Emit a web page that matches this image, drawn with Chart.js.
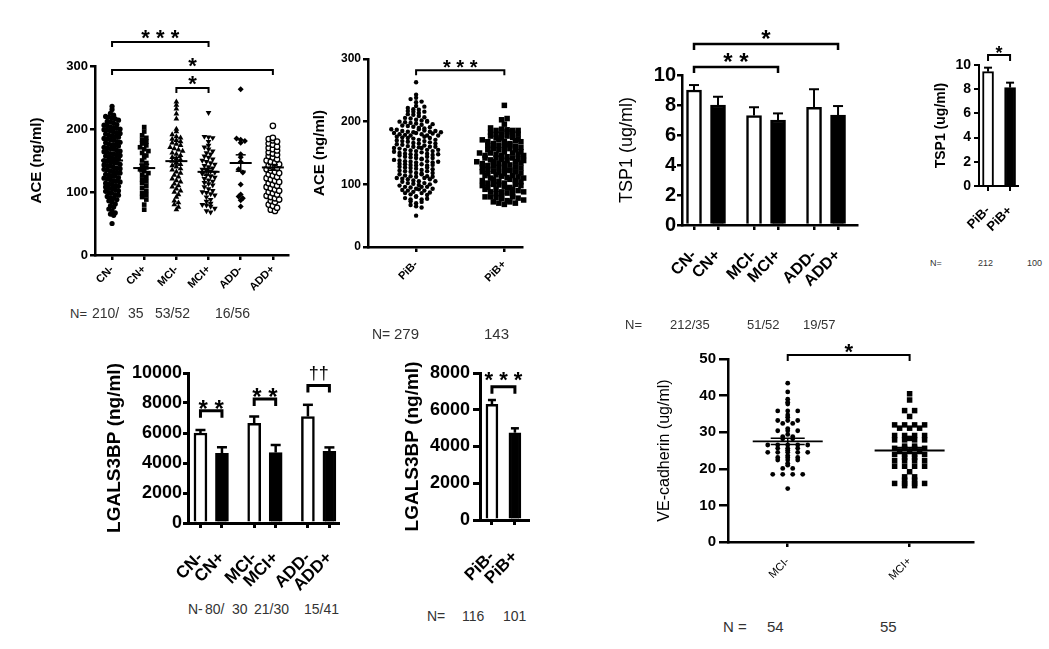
<!DOCTYPE html>
<html>
<head>
<meta charset="utf-8">
<script src="https://cdn.jsdelivr.net/npm/chart.js@4.4.1/dist/chart.umd.min.js"></script>
<style>
html, body { margin: 0; padding: 0; background: #fff; }
body { width: 1049px; height: 649px; position: relative; overflow: hidden; font-family: 'Liberation Sans', Arial, sans-serif; }
canvas { position: absolute; }
.n { position: absolute; color: #333; white-space: pre; line-height: 1; }
</style>
</head>
<body>
<canvas id="c1" width="300" height="280" style="left:0;top:20px"></canvas>
<canvas id="c2" width="230" height="250" style="left:300px;top:40px"></canvas>
<canvas id="c3" width="262" height="280" style="left:600px;top:20px"></canvas>
<canvas id="c4" width="105" height="205" style="left:920px;top:40px"></canvas>
<canvas id="c5" width="270" height="250" style="left:80px;top:345px"></canvas>
<canvas id="c6" width="155" height="250" style="left:380px;top:345px"></canvas>
<canvas id="c7" width="355" height="255" style="left:630px;top:335px"></canvas>

<!-- group sizes under each panel -->
<div class="n" style="left:70px;top:307px;font-size:13px">N=</div>
<div class="n" style="left:92px;top:306px;font-size:14px">210/</div>
<div class="n" style="left:128px;top:306px;font-size:14px">35</div>
<div class="n" style="left:155px;top:306px;font-size:14px">53/52</div>
<div class="n" style="left:215px;top:306px;font-size:14px">16/56</div>

<div class="n" style="left:372px;top:327px;font-size:14px">N=</div>
<div class="n" style="left:394px;top:326px;font-size:15px">279</div>
<div class="n" style="left:484px;top:326px;font-size:15px">143</div>

<div class="n" style="left:625px;top:318px;font-size:13px">N=</div>
<div class="n" style="left:670px;top:318px;font-size:13px">212/35</div>
<div class="n" style="left:747px;top:318px;font-size:13px">51/52</div>
<div class="n" style="left:803px;top:318px;font-size:13px">19/57</div>

<div class="n" style="left:930px;top:259px;font-size:9px">N=</div>
<div class="n" style="left:978px;top:259px;font-size:9px">212</div>
<div class="n" style="left:1027px;top:259px;font-size:9px">100</div>

<div class="n" style="left:188px;top:602px;font-size:14px">N-</div>
<div class="n" style="left:205px;top:602px;font-size:14px">80/</div>
<div class="n" style="left:232px;top:602px;font-size:14px">30</div>
<div class="n" style="left:254px;top:602px;font-size:14px">21/30</div>
<div class="n" style="left:304px;top:602px;font-size:14px">15/41</div>

<div class="n" style="left:427px;top:609px;font-size:14px">N=</div>
<div class="n" style="left:462px;top:609px;font-size:14px">116</div>
<div class="n" style="left:503px;top:609px;font-size:14px">101</div>

<div class="n" style="left:723px;top:619px;font-size:15px">N =</div>
<div class="n" style="left:767px;top:619px;font-size:15px">54</div>
<div class="n" style="left:880px;top:619px;font-size:15px">55</div>

<script>
// ---- data ----
const aceGroups = ['CN-', 'CN+', 'MCI-', 'MCI+', 'ADD-', 'ADD+'];
const aceTicks = [0, 100, 200, 300];
const aceCnNeg = [
  236, 231, 225, 222, 220, 219, 217, 216, 214, 212, 211, 209, 207, 206, 205, 203,
  202, 201, 200, 199, 198, 197, 195, 194, 193, 192, 190, 189, 188, 187, 185, 184,
  183, 182, 180, 179, 178, 176, 175, 174, 173, 171, 170, 169, 168, 166, 165, 164,
  163, 161, 160, 159, 158, 157, 155, 154, 153, 152, 150, 149, 148, 147, 146, 144,
  143, 142, 141, 139, 138, 137, 136, 135, 133, 132, 131, 130, 128, 127, 126, 125,
  123, 122, 121, 120, 118, 117, 116, 114, 113, 112, 110, 109, 108, 106, 105, 104,
  102, 101, 99, 98, 96, 95, 93, 91, 90, 88, 86, 84, 81, 78, 76, 73, 70, 67, 65, 63, 50
];
const aceCnPos = [203, 196, 190, 186, 183, 180, 177, 174, 171, 168, 165, 162, 158, 155, 150, 146, 142, 139,
  136, 133, 130, 127, 124, 120, 117, 114, 110, 106, 102, 98, 95, 92, 88, 80, 72];
const aceMciNeg = [243, 238, 232, 224, 216, 200, 196, 191, 188, 186, 184, 182, 180, 178, 176, 174, 171, 169,
  167, 165, 162, 160, 158, 155, 153, 151, 149, 147, 144, 142, 140, 137, 135, 132, 130, 127, 124, 121,
  118, 116, 113, 110, 108, 105, 102, 100, 96, 92, 86, 83, 80, 76, 72];
const aceMciPos = [226, 188, 187, 186, 180, 174, 171, 168, 165, 162, 160, 157, 155, 152, 150, 148, 146, 144,
  142, 140, 138, 136, 134, 133, 131, 129, 127, 125, 123, 121, 119, 117, 115, 113, 111, 108, 105, 102,
  100, 99, 97, 95, 92, 88, 85, 82, 80, 79, 77, 74, 70, 68];
const aceAddNeg = [263, 185, 183, 181, 178, 160, 155, 148, 136, 131, 112, 96, 93, 90, 87, 77];
const aceAddPos = [205, 186, 184, 182, 180, 177, 175, 172, 170, 168, 166, 163, 161, 159, 157, 155, 152, 150,
  148, 146, 144, 142, 140, 138, 136, 134, 132, 130, 128, 126, 124, 122, 120, 118, 116, 114, 112, 110,
  108, 106, 104, 102, 100, 98, 96, 94, 92, 90, 88, 86, 84, 80, 78, 75, 72, 70];
const aceMeans = [150, 138, 149, 132, 146, 139];
const aceSem = [2.5, 6, 6, 5.5, 13, 4.5];

const pibGroups = ['PiB-', 'PiB+'];

const tsp1Groups = ['CN-', 'CN+', 'MCI-', 'MCI+', 'ADD-', 'ADD+'];
const tsp1Ticks = [0, 2, 4, 6, 8, 10];
const tsp1Means = [9.0, 8.0, 7.3, 7.0, 7.85, 7.33];
const tsp1Sem = [0.33, 0.55, 0.55, 0.44, 1.2, 0.6];
const tsp1PibMeans = [9.45, 8.13];
const tsp1PibSem = [0.33, 0.41];

const lgalsTicks = [0, 2000, 4000, 6000, 8000, 10000];
const lgalsPibTicks = [0, 2000, 4000, 6000, 8000];
const lgalsMeans = [6000, 4650, 6650, 4700, 7100, 4780];
const lgalsSem = [200, 400, 450, 500, 780, 260];
const lgalsPibMeans = [6300, 4750];
const lgalsPibSem = [230, 240];

const veGroups = ['MCI-', 'MCI+'];
const veTicks = [0, 10, 20, 30, 40, 50];
const veMciNeg = [43.4, 41.0, 39.0, 38.2, 37.7, 35.8, 35.8, 35.8, 34.7, 34.1, 33.2, 33.2, 33.2, 32.4, 32.4,
  31.0, 30.4, 30.4, 30.4, 29.4, 28.8, 28.8, 28.2, 28.2, 26.5, 26.5, 26.5, 26.5, 26.5, 25.6, 25.6, 25.6,
  25.1, 24.5, 24.5, 24.5, 24.5, 24.5, 23.6, 23.1, 23.1, 23.1, 22.4, 22.4, 22.4, 21.5, 21.0, 20.1, 20.1,
  18.5, 18.5, 18.5, 18.5, 14.6];
const veMciPos = [40.5, 38.8, 35.9, 35.9, 34.3, 32.0, 32.0, 32.0, 32.0, 31.1, 31.1, 31.1, 29.1, 29.1, 29.1,
  29.1, 28.3, 27.9, 27.9, 27.9, 27.9, 26.2, 26.2, 25.6, 25.6, 25.6, 25.6, 24.9, 24.9, 24.9, 23.9, 23.9,
  23.9, 23.9, 23.1, 23.1, 22.2, 22.2, 22.2, 22.2, 20.7, 20.7, 20.7, 20.7, 19.2, 17.8, 17.8, 16.9, 16.9,
  16.0, 16.0, 16.0, 16.0, 15.4, 15.4];
const veMeans = [27.5, 25.0];
const veSem = [0.85, 0.8];

// ---- layout helpers ----
const FONT = "'Liberation Sans', Arial, sans-serif";
Chart.defaults.font.family = FONT;
Chart.defaults.color = '#000';

const barSlots = [0, 1, 2.5, 3.5, 5, 6];
const barFill = ['#fff', '#000', '#fff', '#000', '#fff', '#000'];

// GraphPad-like column scatter: values in the same y band are spread sideways
function swarm(values, center, bin, step) {
  const rows = {};
  values.forEach(v => {
    const k = Math.round(v / bin);
    (rows[k] = rows[k] || []).push(v);
  });
  const pts = [];
  Object.values(rows).forEach(row => {
    row.forEach((v, i) => pts.push({ x: center + (i - (row.length - 1) / 2) * step, y: v }));
  });
  return pts;
}

function seg(ctx, x1, y1, x2, y2) {
  ctx.beginPath(); ctx.moveTo(x1, y1); ctx.lineTo(x2, y2); ctx.stroke();
}

function marks(cfg) {
  return {
    id: 'marks',
    afterDatasetsDraw(chart) {
      const { ctx, scales: { x, y } } = chart;
      ctx.save();
      ctx.strokeStyle = '#000';
      ctx.fillStyle = '#000';
      (cfg.means || []).forEach(m => {
        const cx = x.getPixelForValue(m.x);
        const my = y.getPixelForValue(m.mean);
        const t = y.getPixelForValue(m.mean + m.sem), b = y.getPixelForValue(m.mean - m.sem);
        ctx.lineWidth = cfg.meanWidth;
        seg(ctx, cx - cfg.meanHalf, my, cx + cfg.meanHalf, my);
        ctx.lineWidth = cfg.semWidth;
        seg(ctx, cx, t, cx, b);
        seg(ctx, cx - cfg.semHalf, t, cx + cfg.semHalf, t);
        seg(ctx, cx - cfg.semHalf, b, cx + cfg.semHalf, b);
      });
      (cfg.errors || []).forEach(e => {
        const cx = x.getPixelForValue(e.x);
        const t = y.getPixelForValue(e.mean + e.sem), b = y.getPixelForValue(e.mean);
        ctx.lineWidth = cfg.errWidth;
        seg(ctx, cx, b, cx, t);
        seg(ctx, cx - cfg.capHalf, t, cx + cfg.capHalf, t);
      });
      (cfg.brackets || []).forEach(br => {
        const xa = x.getPixelForValue(br.a), xb = x.getPixelForValue(br.b);
        const yy = y.getPixelForValue(br.y);
        ctx.lineWidth = cfg.bracketWidth;
        ctx.beginPath();
        ctx.moveTo(xa, yy + cfg.drop); ctx.lineTo(xa, yy); ctx.lineTo(xb, yy); ctx.lineTo(xb, yy + cfg.drop);
        ctx.stroke();
        ctx.font = br.font || cfg.starFont;
        ctx.textAlign = 'center';
        ctx.textBaseline = 'alphabetic';
        ctx.fillText(br.text, (xa + xb) / 2, yy + (br.dy !== undefined ? br.dy : cfg.starDy));
      });
      ctx.restore();
    }
  };
}

function axisY(o) {
  return {
    type: 'linear', min: o.ticks[0], max: o.ticks[o.ticks.length - 1],
    afterBuildTicks: s => { s.ticks = o.ticks.map(v => ({ value: v })); },
    ticks: { color: '#000', font: o.tickFont, padding: o.tickPad, callback: v => String(v) },
    grid: { drawOnChartArea: false, color: '#000', lineWidth: o.lw, tickLength: o.tickLen || 5 },
    border: { color: '#000', width: o.lw },
    title: { display: true, text: o.title, color: '#000', font: o.titleFont, padding: { top: o.titlePad, bottom: 0 } },
    afterFit: s => { s.width = o.width; }
  };
}

function axisX(o) {
  return {
    type: 'linear', min: o.min, max: o.max, offset: false,
    afterBuildTicks: s => { s.ticks = o.slots.map(v => ({ value: v })); },
    ticks: { autoSkip: false, minRotation: 45, maxRotation: 45, color: '#000', font: o.font, padding: o.pad,
      callback: (v, i) => o.labels[i] },
    grid: { drawOnChartArea: false, color: '#000', lineWidth: o.lw, tickLength: 5, offset: false },
    border: { color: '#000', width: o.lw },
    // keep the plot box fixed: rotated labels must not push the axis ends inward
    afterFit: s => { s.height = o.height; s.paddingLeft = 0; s.paddingRight = 0; }
  };
}

function baseOptions(pad, scales) {
  return {
    responsive: false, animation: false, events: [],
    layout: { padding: { top: pad.top, right: pad.right, left: 0, bottom: 0 } },
    plugins: { legend: { display: false }, tooltip: { enabled: false } },
    scales
  };
}

function dots(points, style) {
  return Object.assign({ data: points, pointBackgroundColor: '#000', pointBorderColor: '#000',
    pointBorderWidth: 0, pointRadius: 2.6, pointStyle: 'circle', clip: false }, style);
}

// ---- panel 1: ACE by group ----
new Chart(document.getElementById('c1'), {
  type: 'scatter',
  data: {
    datasets: [
      dots(swarm(aceCnNeg, 0, 7, 0.1), {}),
      dots(swarm(aceCnPos, 1, 7, 0.13), { pointStyle: 'rect', pointRadius: 3.3 }),
      dots(swarm(aceMciNeg, 2, 7, 0.13), { pointStyle: 'triangle', pointRadius: 3.3 }),
      dots(swarm(aceMciPos, 3, 7, 0.13), { pointStyle: 'triangle', pointRotation: 180, pointRadius: 3.3 }),
      dots(swarm(aceAddNeg, 4, 7, 0.13), { pointStyle: 'rectRot', pointRadius: 3 }),
      dots(swarm(aceAddPos, 5, 7, 0.13), { pointBackgroundColor: '#fff', pointBorderWidth: 1.3, pointRadius: 2.7 })
    ]
  },
  options: baseOptions({ top: 46, right: 12 }, {
    x: axisX({ min: -0.53, max: 5.47, slots: [0, 1, 2, 3, 4, 5], labels: aceGroups, font: { size: 11, weight: 'bold' }, pad: 3, lw: 2.5, height: 45 }),
    y: axisY({ ticks: aceTicks, tickFont: { size: 13, weight: 'bold' }, tickPad: 2, lw: 2.5, title: 'ACE (ng/ml)',
      titleFont: { size: 15, weight: 'bold' }, titlePad: 28, width: 95 })
  }),
  plugins: [marks({
    means: aceMeans.map((m, i) => ({ x: i, mean: m, sem: aceSem[i] })),
    meanWidth: 2, meanHalf: 11, semWidth: 1.5, semHalf: 5,
    brackets: [
      { a: 0, b: 3, y: 338, text: '* * *' },
      { a: 0, b: 5, y: 293.6, text: '*' },
      { a: 2, b: 3, y: 265, text: '*' }
    ],
    bracketWidth: 2, drop: 5, starFont: 'bold 22px ' + FONT, starDy: 2.5
  })]
});

// ---- panel 2: ACE by PiB ----
new Chart(document.getElementById('c2'), {
  type: 'scatter',
  data: {
    datasets: [
      dots(swarm(aceCnNeg.concat(aceMciNeg, aceAddNeg), 0, 6, 0.0625), { pointRadius: 2.2 }),
      dots(swarm(aceCnPos.concat(aceMciPos, aceAddPos), 1, 7, 0.0625), { pointStyle: 'rect', pointRadius: 3.9 })
    ]
  },
  options: baseOptions({ top: 19, right: 8 }, {
    x: axisX({ min: -0.545, max: 1.2, slots: [0, 1], labels: pibGroups, font: { size: 11, weight: 'bold' }, pad: 6, lw: 2.5, height: 43 }),
    y: axisY({ ticks: aceTicks, tickFont: { size: 12, weight: 'bold' }, tickPad: 2, lw: 2.5, title: 'ACE (ng/ml)',
      titleFont: { size: 15, weight: 'bold' }, titlePad: 11, width: 68 })
  }),
  plugins: [marks({
    brackets: [{ a: 0, b: 1, y: 282, text: '* * *' }],
    bracketWidth: 2, drop: 5, starFont: 'bold 20px ' + FONT, starDy: 3.5
  })]
});

// ---- panel 3: TSP1 by group ----
new Chart(document.getElementById('c3'), {
  type: 'bar',
  data: {
    datasets: [{
      data: tsp1Means.map((v, i) => ({ x: barSlots[i], y: v })),
      backgroundColor: barFill, borderColor: '#000', borderWidth: 2.5, barThickness: 15
    }]
  },
  options: baseOptions({ top: 55, right: 5 }, {
    x: axisX({ min: -0.5, max: 6.79, slots: barSlots, labels: tsp1Groups, font: { size: 16, weight: 'bold' }, pad: 16, lw: 2.5, height: 75 }),
    y: axisY({ ticks: tsp1Ticks, tickFont: { size: 20, weight: 'bold' }, tickPad: 1, lw: 2.5, title: 'TSP1 (ug/ml)',
      titleFont: { size: 18 }, titlePad: 16, width: 82 })
  }),
  plugins: [marks({
    errors: tsp1Means.map((m, i) => ({ x: barSlots[i], mean: m, sem: tsp1Sem[i] })),
    errWidth: 2, capHalf: 5,
    brackets: [
      { a: 0, b: 6, y: 12.07, text: '*' },
      { a: 0, b: 3.5, y: 10.53, text: '* *' }
    ],
    bracketWidth: 2.5, drop: 6, starFont: 'bold 24px ' + FONT, starDy: 3
  })]
});

// ---- panel 4: TSP1 by PiB ----
new Chart(document.getElementById('c4'), {
  type: 'bar',
  data: {
    datasets: [{
      data: tsp1PibMeans.map((v, i) => ({ x: i, y: v })),
      backgroundColor: ['#fff', '#000'], borderColor: '#000', borderWidth: 2, barThickness: 11
    }]
  },
  options: baseOptions({ top: 25, right: 7 }, {
    x: axisX({ min: -0.41, max: 1.36, slots: [0, 1], labels: pibGroups, font: { size: 13, weight: 'bold' }, pad: 12, lw: 2, height: 59 }),
    y: axisY({ ticks: tsp1Ticks, tickFont: { size: 14, weight: 'bold' }, tickPad: 3, lw: 2, title: 'TSP1 (ug/ml)',
      titleFont: { size: 14, weight: 'bold' }, titlePad: 12.6, width: 59 })
  }),
  plugins: [marks({
    errors: tsp1PibMeans.map((m, i) => ({ x: i, mean: m, sem: tsp1PibSem[i] })),
    errWidth: 2, capHalf: 4,
    brackets: [{ a: 0, b: 1, y: 10.83, text: '*' }],
    bracketWidth: 2, drop: 6, starFont: 'bold 18px ' + FONT, starDy: 4.5
  })]
});

// ---- panel 5: LGALS3BP by group ----
new Chart(document.getElementById('c5'), {
  type: 'bar',
  data: {
    datasets: [{
      data: lgalsMeans.map((v, i) => ({ x: barSlots[i], y: v })),
      backgroundColor: barFill, borderColor: '#000', borderWidth: 2.5, barThickness: 13
    }]
  },
  options: baseOptions({ top: 28, right: 12 }, {
    x: axisX({ min: -0.58, max: 6.4, slots: barSlots, labels: tsp1Groups, font: { size: 17, weight: 'bold' }, pad: 20, lw: 3, height: 72 }),
    y: axisY({ ticks: lgalsTicks, tickFont: { size: 18, weight: 'bold' }, tickPad: 1, lw: 3, title: 'LGALS3BP (ng/ml)',
      titleFont: { size: 19, weight: 'bold' }, titlePad: 23.6, width: 108 })
  }),
  plugins: [marks({
    errors: lgalsMeans.map((m, i) => ({ x: barSlots[i], mean: m, sem: lgalsSem[i] })),
    errWidth: 2.5, capHalf: 5,
    brackets: [
      { a: 0, b: 1, y: 7487, text: '* *' },
      { a: 2.5, b: 3.5, y: 8267, text: '* *' },
      { a: 5, b: 6, y: 9173, text: '††', font: '18px ' + FONT, dy: -6 }
    ],
    bracketWidth: 3, drop: 7, starFont: 'bold 24px ' + FONT, starDy: 6
  })]
});

// ---- panel 6: LGALS3BP by PiB ----
new Chart(document.getElementById('c6'), {
  type: 'bar',
  data: {
    datasets: [{
      data: lgalsPibMeans.map((v, i) => ({ x: i, y: v })),
      backgroundColor: ['#fff', '#000'], borderColor: '#000', borderWidth: 2.5, barThickness: 12
    }]
  },
  options: baseOptions({ top: 28, right: 7 }, {
    x: axisX({ min: -0.52, max: 1.57, slots: [0, 1], labels: pibGroups, font: { size: 17, weight: 'bold' }, pad: 22, lw: 3, height: 75 }),
    y: axisY({ ticks: lgalsPibTicks, tickFont: { size: 18, weight: 'bold' }, tickPad: 3, tickLen: 7, lw: 3, title: 'LGALS3BP (ng/ml)',
      titleFont: { size: 19, weight: 'bold' }, titlePad: 21.6, width: 100 })
  }),
  plugins: [marks({
    errors: lgalsPibMeans.map((m, i) => ({ x: i, mean: m, sem: lgalsPibSem[i] })),
    errWidth: 2.5, capHalf: 4,
    brackets: [{ a: 0, b: 1, y: 7256, text: '* * *' }],
    bracketWidth: 3, drop: 7, starFont: 'bold 22px ' + FONT, starDy: 0
  })]
});

// ---- panel 7: VE-cadherin ----
new Chart(document.getElementById('c7'), {
  type: 'scatter',
  data: {
    datasets: [
      dots(swarm(veMciNeg, 0, 0.5, 0.082), { pointRadius: 2.4 }),
      dots(swarm(veMciPos, 1, 0.5, 0.082), { pointStyle: 'rect', pointRadius: 3.9 })
    ]
  },
  options: baseOptions({ top: 24, right: 12 }, {
    x: axisX({ min: -0.49, max: 1.52, slots: [0, 1], labels: veGroups, font: { size: 11 }, pad: 8, lw: 2.5, height: 48 }),
    y: axisY({ ticks: veTicks, tickFont: { size: 15, weight: 'bold' }, tickPad: 3, tickLen: 9, lw: 2.5, title: 'VE-cadherin (ug/ml)',
      titleFont: { size: 16 }, titlePad: 25, width: 98 })
  }),
  plugins: [marks({
    means: veMeans.map((m, i) => ({ x: i, mean: m, sem: veSem[i] })),
    meanWidth: 1.8, meanHalf: 35, semWidth: 1.5, semHalf: 17,
    brackets: [{ a: 0, b: 1, y: 51.1, text: '*' }],
    bracketWidth: 2, drop: 6, starFont: 'bold 22px ' + FONT, starDy: 4.5
  })]
});
</script>
</body>
</html>
